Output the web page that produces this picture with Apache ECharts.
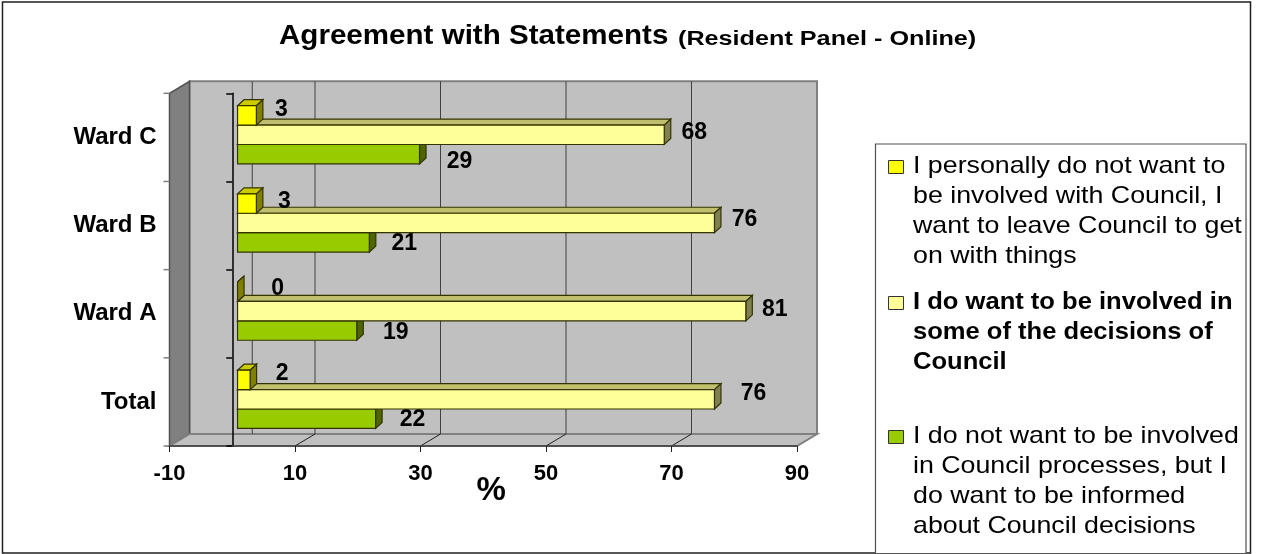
<!DOCTYPE html>
<html>
<head>
<meta charset="utf-8">
<style>html,body{margin:0;padding:0;background:#fff}#c{width:1262px;height:554px}</style>
<script src="https://cdn.jsdelivr.net/npm/echarts@6/dist/echarts.min.js"></script>
</head>
<body>
<div id="c"></div>
<script>
const categories = ['Total', 'Ward A', 'Ward B', 'Ward C'];
const yellowValues = [2, 0, 3, 3];
const paleValues = [76, 81, 76, 68];
const greenValues = [22, 19, 21, 29];
const xTicks = [-10, 10, 30, 50, 70, 90];
const titleMain = 'Agreement with Statements';
const titleSub = '(Resident Panel - Online)';
const seriesNames = [
  'I personally do not want to\nbe involved with Council, I\nwant to leave Council to get\non with things',
  'I do want to be involved in\nsome of the decisions of\nCouncil',
  'I do not want to be involved\nin Council processes, but I\ndo want to be informed\nabout Council decisions'
];
// hand-placed data label offsets (layout only)
const yellowLabelShift = [[32, -6], [40, -3], [28, -2], [25, -6]];
const paleLabelShift = [[39, -6], [29, -1], [30, -3], [30, -2]];
const greenLabelShift = [[37, 1], [39, 2], [35, 1], [40, 7]];

const FONT = '"Liberation Sans", Arial, sans-serif';
const WALL_DX = 20, WALL_DY = -12;
const BAR_DX = 6.5, BAR_DY = -6;
const BAR_H = 19.4, BAR_X = 5.3, BAR_Y = -2.6;
const C = {
  yellow: { front: '#FFFF00', top: '#CCCC00', side: '#808000' },
  pale: { front: '#FFFF99', top: '#BFBF6E', side: '#808050' },
  green: { front: '#99CC00', top: '#7AA300', side: '#4D6600' }
};

function poly(points, fill, stroke, lw) {
  return { type: 'polygon', shape: { points }, style: { fill, stroke: stroke || null, lineWidth: lw || 0 } };
}
function seg(x1, y1, x2, y2, stroke, lw) {
  return { type: 'line', shape: { x1, y1, x2, y2 }, style: { stroke, lineWidth: lw || 1 } };
}

function renderBackdrop(params, api) {
  const r = params.coordSys;
  const L = r.x, R = r.x + r.width, T = r.y, B = r.y + r.height;
  const d = WALL_DX, e = WALL_DY;
  const kids = [
    poly([[L + d, T + e], [R + d, T + e], [R + d, B + e], [L + d, B + e]], '#C0C0C0', '#808080', 2),
    poly([[L, T], [L + d, T + e], [L + d, B + e], [L, B]], '#808080', '#505050', 1.5),
    poly([[L, B], [L + d, B + e], [R + d, B + e], [R, B]], '#C0C0C0', '#808080', 2)
  ];
  xTicks.forEach(function (v) {
    const x = api.coord([v, 0])[0];
    if (v > xTicks[0] && v < xTicks[xTicks.length - 1]) {
      kids.push(seg(x + d, T + e, x + d, B + e, '#404040', 1));
    }
    kids.push(seg(x, B, x + d, B + e, v === xTicks[0] || v === xTicks[xTicks.length - 1] ? '#808080' : '#202020', 1));
  });
  const zeroX = api.coord([0, 0])[0];
  kids.push(seg(zeroX + d, T + e, zeroX + d, B + e, '#404040', 1));
  const band = r.height / categories.length;
  for (let i = 0; i <= categories.length; i++) {
    kids.push(seg(L - 6, T + band * i, L, T + band * i, '#808080', 1.5));
  }
  return { type: 'group', children: kids };
}

function barRenderer(col, shifts) {
  return function (params, api) {
    const val = api.value(0), cat = api.value(1);
    const c0 = api.coord([0, cat]), c1 = api.coord([val, cat]);
    const off = params.seriesIndex === 1 ? -1 : params.seriesIndex === 3 ? 1 : 0;
    const x0 = c0[0] + BAR_X, x1 = c1[0] + BAR_X;
    const yc = c0[1] + BAR_Y + off * -BAR_H;
    const t = yc - BAR_H / 2, b = yc + BAR_H / 2;
    const s = '#333300';
    const kids = [];
    kids.push(poly([[x0, t], [x0 + BAR_DX, t + BAR_DY], [x1 + BAR_DX, t + BAR_DY], [x1, t]], col.top, s, 1.2));
    kids.push(poly([[x1, t], [x1 + BAR_DX, t + BAR_DY], [x1 + BAR_DX, b + BAR_DY], [x1, b]], col.side, s, 1.2));
    if (val > 0) kids.push(poly([[x0, t], [x1, t], [x1, b], [x0, b]], col.front, s, 1.2));
    const sh = shifts[params.dataIndex];
    kids.push({
      type: 'text', z2: 50, x: x1 + sh[0], y: yc + sh[1],
      style: {
        text: String(val), x: 0, y: 0, align: 'center', verticalAlign: 'middle',
        font: 'bold 23px ' + FONT, fill: '#000'
      }
    });
    return { type: 'group', children: kids };
  };
}

function zip(vals) { return vals.map(function (v, i) { return [v, i]; }); }

function graphicEls() {
  const colors = [C.yellow.front, C.pale.front, C.green.front];
  const tops = [160, 296, 430];
  const els = [];
  els.push({ type: 'rect', shape: { x: 2.5, y: 2, width: 1248, height: 551 }, style: { fill: null, stroke: '#202020', lineWidth: 1.5 }, z: 1 });
  els.push({ type: 'polyline', shape: { points: [[875.5, 553], [875.5, 144], [1246, 144], [1246, 553]] }, style: { fill: '#fff', stroke: '#505050', lineWidth: 1.2 }, z: 1 });
  els.push({ type: 'text', x: 279, y: 36.5, scaleX: 1.095, z: 2, style: { text: titleMain, font: 'bold 27px ' + FONT, fill: '#000', align: 'left', verticalAlign: 'middle' } });
  els.push({ type: 'text', x: 678, y: 39, scaleX: 1.26, z: 2, style: { text: titleSub, font: 'bold 20px ' + FONT, fill: '#000', align: 'left', verticalAlign: 'middle' } });
  seriesNames.forEach(function (name, i) {
    els.push({ type: 'rect', shape: { x: 888.5, y: tops[i] + 0.5, width: 15, height: 13 }, style: { fill: colors[i], stroke: '#333', lineWidth: 1 }, z: 2 });
    els.push({
      type: 'text', x: 913, y: tops[i] - 9, z: 2, scaleX: i === 1 ? 1.065 : 1.115,
      style: { text: name, font: (i === 1 ? 'bold ' : '') + '24px ' + FONT, lineHeight: 30, fill: '#000', align: 'left', verticalAlign: 'top' }
    });
  });
  return els;
}

const chart = echarts.init(document.getElementById('c'), null, { renderer: 'canvas' });
chart.setOption({
  animation: false,
  backgroundColor: '#fff',
  grid: { left: 169.5, top: 93.3, width: 627.5, height: 352.7, containLabel: false },
  xAxis: {
    type: 'value', min: -10, max: 90, interval: 10, z: 5,
    name: '%', nameLocation: 'middle', nameGap: 28, nameMoveOverlap: false,
    nameTextStyle: { fontFamily: FONT, fontWeight: 'bold', fontSize: 33, color: '#000', padding: [0, 0, 0, 16] },
    axisLine: { show: true, onZero: false, lineStyle: { color: '#404040', width: 1.5 } },
    axisTick: { show: true, length: 6, customValues: xTicks, lineStyle: { color: '#202020' } },
    axisLabel: { customValues: xTicks, margin: 17, fontFamily: FONT, fontWeight: 'bold', fontSize: 22, color: '#000' },
    splitLine: { show: false }
  },
  yAxis: {
    type: 'category', data: categories, z: 5,
    axisLine: { show: true, onZero: true, lineStyle: { color: '#000', width: 1.5 } },
    axisTick: { show: true, length: 6, lineStyle: { color: '#000', width: 1.5 } },
    axisLabel: { margin: 13, padding: [3, 0, 0, 0], fontFamily: FONT, fontWeight: 'bold', fontSize: 24, color: '#000' },
    splitLine: { show: false }
  },
  graphic: graphicEls(),
  series: [
    { type: 'custom', name: 'backdrop', coordinateSystem: 'cartesian2d', clip: false, z: 1, silent: true,
      encode: { x: 0, y: 1 }, data: [[0, 0]], renderItem: renderBackdrop },
    { type: 'custom', name: seriesNames[2], coordinateSystem: 'cartesian2d', clip: false, z: 2,
      encode: { x: 0, y: 1 }, data: zip(greenValues), renderItem: barRenderer(C.green, greenLabelShift) },
    { type: 'custom', name: seriesNames[1], coordinateSystem: 'cartesian2d', clip: false, z: 3,
      encode: { x: 0, y: 1 }, data: zip(paleValues), renderItem: barRenderer(C.pale, paleLabelShift) },
    { type: 'custom', name: seriesNames[0], coordinateSystem: 'cartesian2d', clip: false, z: 4,
      encode: { x: 0, y: 1 }, data: zip(yellowValues), renderItem: barRenderer(C.yellow, yellowLabelShift) }
  ]
});
</script>
</body>
</html>
